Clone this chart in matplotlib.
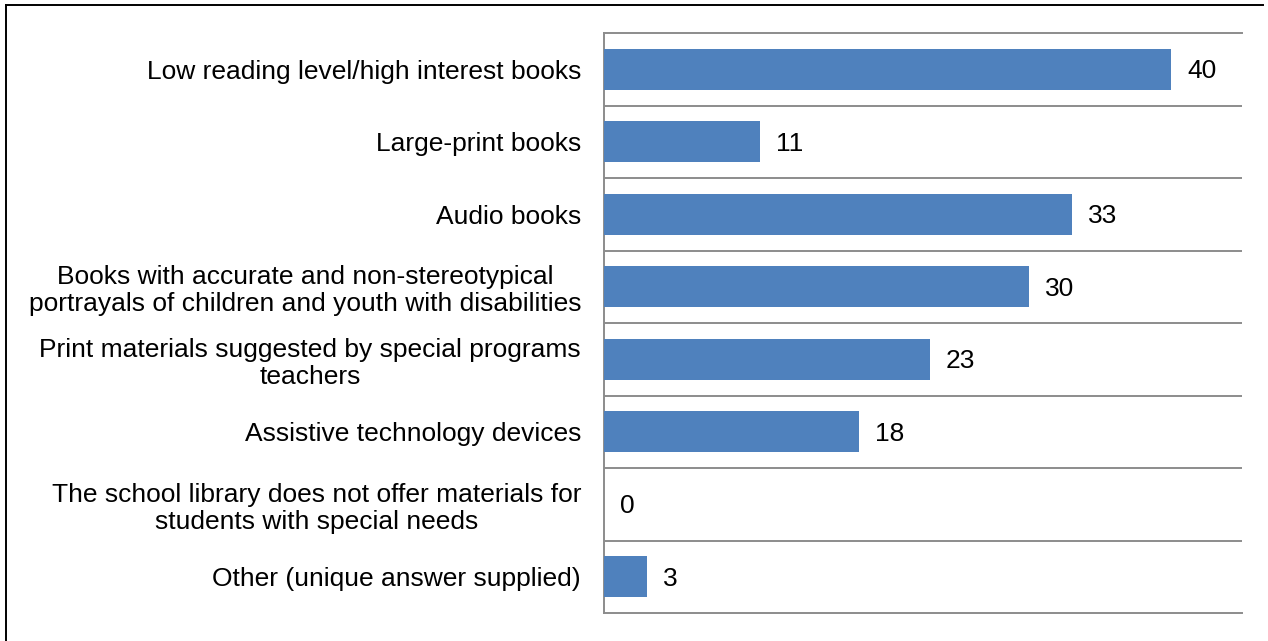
import matplotlib
matplotlib.use('Agg')
import matplotlib.pyplot as plt
from matplotlib.lines import Line2D

plt.rcParams['font.family'] = ['Liberation Sans', 'DejaVu Sans']

categories = [
    'Low reading level/high interest books',
    'Large-print books',
    'Audio books',
    'Books with accurate and non-stereotypical\nportrayals of children and youth with disabilities',
    'Print materials suggested by special programs\nteachers',
    'Assistive technology devices',
    'The school library does not offer materials for\nstudents with special needs',
    'Other (unique answer supplied)',
]
values = [40, 11, 33, 30, 23, 18, 0, 3]

bar_color = '#4F81BD'
grid_color = '#8C8C8C'
fs = 19

fig = plt.figure(figsize=(12.68, 6.41), dpi=100)
ax = fig.add_axes([604 / 1268, 1 - 613 / 641, (1242 - 604) / 1268, (613 - 33) / 641])

pos = list(range(len(categories)))
bars = ax.barh(pos, values, height=0.56, color=bar_color, zorder=3)

ax.set_xlim(0, 45)
ax.set_ylim(len(categories) - 0.5, -0.5)

ax.set_yticks(pos)
ax.set_yticklabels(categories, fontsize=fs, linespacing=1.15)
for lbl in ax.get_yticklabels():
    lbl.set_multialignment('center')
ax.tick_params(axis='y', length=0, pad=16.5)
ax.set_xticks([])

# gridlines between categories
ax.set_yticks([p + 0.5 for p in pos[:-1]], minor=True)
ax.tick_params(axis='y', which='minor', length=0)
ax.grid(True, axis='y', which='minor', color=grid_color, linewidth=1.4, zorder=0)

for side in ['top', 'bottom', 'left']:
    ax.spines[side].set_color(grid_color)
    ax.spines[side].set_linewidth(1.4)
ax.spines['right'].set_visible(False)

for b, v in zip(bars, values):
    ax.annotate(str(v), (v, b.get_y() + b.get_height() / 2), xytext=(16, -2),
                textcoords='offset pixels', va='center', ha='left', fontsize=fs)

# chart border
fig.add_artist(Line2D([6 / 1268, 6 / 1268], [0, 1 - 5 / 641], color='black', linewidth=1.4))
fig.add_artist(Line2D([6 / 1268, 1263 / 1268], [1 - 5 / 641, 1 - 5 / 641], color='black', linewidth=1.4))

fig.savefig('out.png', dpi=100)
